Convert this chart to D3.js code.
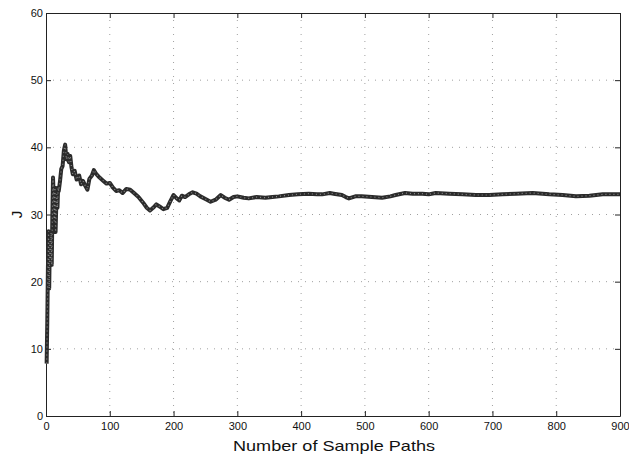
<!DOCTYPE html>
<meta charset="utf-8" />
<script src="https://d3js.org/d3.v7.min.js"></script>
<style>
  body { margin: 0; background: #fff; }
  text { font-family: "Liberation Sans", Arial, sans-serif; fill: #111; }
</style>
<body>
  <div id="my_dataviz"></div>
</body>
<script>
  // sample path counts and running estimate of J
  var samplePaths = [
    1, 2, 3, 4, 5, 6, 7, 8, 9, 10, 11, 12, 13, 14, 15, 16, 17, 18, 19, 20,
    22, 24, 26, 28, 30, 32, 34, 36, 38, 40, 42, 45, 48, 52, 55, 58, 62, 65,
    68, 72, 75, 79, 84, 90, 95, 100, 105, 110, 115, 120, 126, 132, 138, 145,
    152, 158, 163, 168, 173, 178, 184, 190, 195, 200, 205, 209, 213, 218,
    224, 230, 236, 242, 250, 258, 266, 274, 280, 287, 294, 300, 310, 318,
    330, 344, 355, 365, 381, 395, 412, 425, 433, 445, 451, 464, 470, 475,
    485, 495, 511, 527, 540, 548, 563, 575, 590, 600, 611, 632, 653, 674,
    695, 716, 737, 763, 789, 810, 831, 852, 873, 900
  ];
  var jValues = [
    7.8, 14, 22, 27.5, 19, 26, 23, 27.3, 22.5, 30, 35.5, 33, 29, 34, 27.4,
    31, 33, 31, 34, 33.5,
    35, 36.8, 37.2, 39.5, 40.4, 38.2, 39, 37.8, 38.7, 37, 36, 36.5, 35.2,
    35.8, 34.5, 35, 34.2, 33.7,
    35.3, 35.8, 36.6, 36, 35.5, 35, 34.6, 34.7, 34, 33.5, 33.6, 33.2, 33.8,
    33.7, 33.2, 32.6,
    31.8, 31, 30.6, 31, 31.5, 31.2, 30.8, 31, 32, 32.9, 32.4, 32.1, 32.8,
    32.6,
    33, 33.3, 33.1, 32.7, 32.3, 31.9, 32.2, 32.9, 32.5, 32.2, 32.6, 32.7,
    32.5, 32.4,
    32.6, 32.5, 32.6, 32.7, 32.9, 33.0, 33.1, 33.0, 33.0, 33.2, 33.1, 32.9,
    32.6, 32.4,
    32.7, 32.7, 32.6, 32.5, 32.7, 32.9, 33.2, 33.1, 33.1, 33.0, 33.2, 33.1,
    33.0, 32.9,
    32.9, 33.0, 33.1, 33.2, 33.0, 32.9, 32.7, 32.8, 33.0, 33.0
  ];
  var xTicks = [0, 100, 200, 300, 400, 500, 600, 700, 800, 900];
  var yTicks = [0, 10, 20, 30, 40, 50, 60];

  var data = samplePaths.map(function (d, i) {
    return { n: d, j: jValues[i] };
  });

  // plot box in page pixels
  var margin = { top: 13, right: 9, bottom: 40, left: 46 },
    width = 629 - margin.left - margin.right,
    height = 456 - margin.top - margin.bottom;

  var svg = d3
    .select("#my_dataviz")
    .append("svg")
    .attr("width", 629)
    .attr("height", 456)
    .append("g")
    .attr("transform", "translate(" + margin.left + "," + margin.top + ")");

  var x = d3.scaleLinear().domain([0, 900]).range([0, width]);
  var y = d3.scaleLinear().domain([0, 60]).range([height, 0]);

  // dotted grid
  svg
    .selectAll(".vgrid")
    .data(xTicks.slice(1, -1))
    .enter()
    .append("line")
    .attr("x1", function (d) { return x(d); })
    .attr("x2", function (d) { return x(d); })
    .attr("y1", 0)
    .attr("y2", height)
    .attr("stroke", "#a0a0a0")
    .attr("stroke-width", 1)
    .attr("stroke-dasharray", "1,6");
  svg
    .selectAll(".hgrid")
    .data(yTicks.slice(1, -1))
    .enter()
    .append("line")
    .attr("y1", function (d) { return y(d); })
    .attr("y2", function (d) { return y(d); })
    .attr("x1", 0)
    .attr("x2", width)
    .attr("stroke", "#a0a0a0")
    .attr("stroke-width", 1)
    .attr("stroke-dasharray", "1,6");

  // axes with inward ticks, MATLAB box style
  var tickStyle = function (g) {
    g.select(".domain").attr("stroke", "#222");
    g.selectAll(".tick line").attr("stroke", "#222");
    g.selectAll(".tick text").attr("font-size", "11px").attr("fill", "#111");
  };
  svg
    .append("g")
    .attr("transform", "translate(0," + height + ")")
    .call(d3.axisBottom(x).tickValues(xTicks).tickSize(-5).tickSizeOuter(0).tickPadding(6))
    .call(tickStyle);
  svg
    .append("g")
    .call(d3.axisLeft(y).tickValues(yTicks).tickSize(-5).tickSizeOuter(0).tickPadding(3))
    .call(tickStyle);
  svg
    .append("g")
    .call(d3.axisTop(x).tickValues(xTicks).tickSize(-5).tickSizeOuter(0).tickFormat(""))
    .call(tickStyle);
  svg
    .append("g")
    .attr("transform", "translate(" + width + ",0)")
    .call(d3.axisRight(y).tickValues(yTicks).tickSize(-5).tickSizeOuter(0).tickFormat(""))
    .call(tickStyle);

  // the running estimate: thick dark stroke plus a speckled overlay
  var line = d3
    .line()
    .x(function (d) { return x(d.n); })
    .y(function (d) { return y(d.j); });
  svg
    .append("path")
    .datum(data)
    .attr("fill", "none")
    .attr("stroke", "#2b2b2b")
    .attr("stroke-width", 4)
    .attr("stroke-linejoin", "round")
    .attr("d", line);
  svg
    .append("path")
    .datum(data)
    .attr("fill", "none")
    .attr("stroke", "#8a8a8a")
    .attr("stroke-width", 1.2)
    .attr("stroke-dasharray", "1,3")
    .attr("d", line);

  // axis labels
  svg
    .append("text")
    .attr("x", width / 2 + 1)
    .attr("y", height + 35)
    .attr("text-anchor", "middle")
    .attr("font-size", "15px")
    .attr("textLength", 202)
    .attr("lengthAdjust", "spacingAndGlyphs")
    .text("Number of Sample Paths");
  svg
    .append("text")
    .attr("transform", "translate(-24," + height / 2 + ") rotate(-90)")
    .attr("text-anchor", "middle")
    .attr("font-size", "15px")
    .text("J");
</script>
